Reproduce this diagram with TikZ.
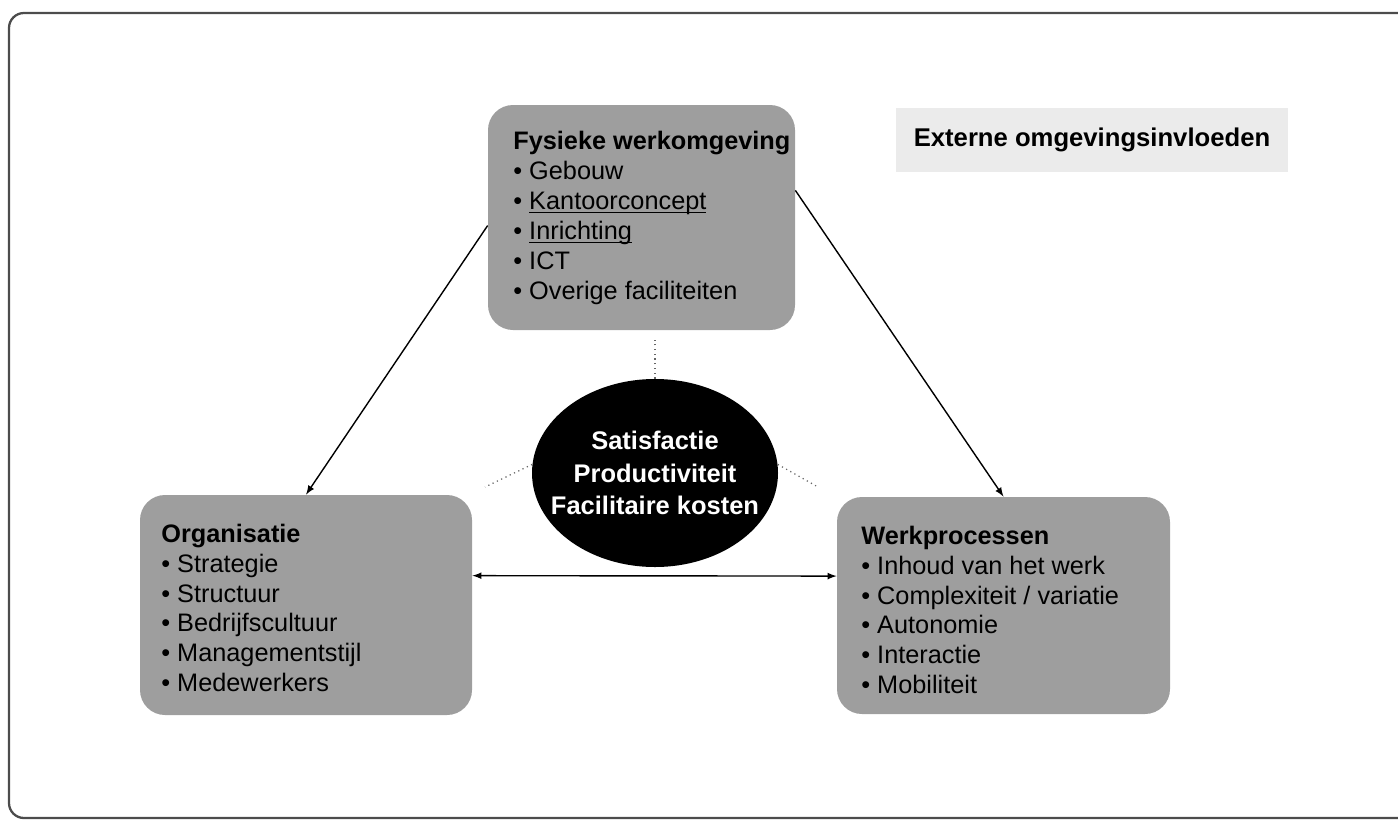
\documentclass[tikz,border=0pt]{standalone}
\usepackage{fontspec}
\setmainfont{Liberation Sans}
\usetikzlibrary{shapes.geometric}
\newcommand\streep[1]{\setbox0\hbox{#1}\rlap{\rule[-2pt]{\wd0}{0.7pt}}\box0}

\begin{document}
\begin{tikzpicture}[x=0.02cm,y=-0.02cm,>=latex,
	box/.style={fill=black!38,rounded corners=0.5cm,inner sep=0pt},
	boxtext/.style={anchor=west,align=left,inner sep=0pt,font=\fontsize{14.4}{17}\selectfont},
	link/.style={line width=0.8pt},
	stub/.style={dotted,black!60,line width=0.7pt}]
		\useasboundingbox (0,0) rectangle (1398,821);
		\draw[black!70, line width=1.3pt, rounded corners=0.3cm] (9,13) rectangle (1420,818);
		% factors
		\node[box, minimum width=307*0.02cm, minimum height=225*0.02cm] (fysiek) at (641.5,217.5) {};
		\node[box, minimum width=332*0.02cm, minimum height=220*0.02cm] (organisatie) at (306,605) {};
		\node[box, minimum width=333*0.02cm, minimum height=217*0.02cm] (werk) at (1003.5,605.5) {};
		\node[boxtext] (fysiektxt) at (513,218) {\textbf{Fysieke werkomgeving}\\ • Gebouw\\ • \streep{Kantoorconcept}\\ • \streep{Inrichting}\\ • ICT\\ • Overige faciliteiten};
		\node[boxtext] (organisatietxt) at (161,608) {\textbf{Organisatie}\\ • Strategie\\ • Structuur\\ • Bedrijfscultuur\\ • Managementstijl\\ • Medewerkers};
		\node[boxtext] (werktxt) at (861,610) {\textbf{Werkprocessen}\\ • Inhoud van het werk\\ • Complexiteit / variatie\\ • Autonomie\\ • Interactie\\ • Mobiliteit};
		% outcome
		\node[ellipse, fill=black, text=white, align=center, inner xsep=-0.4cm, inner ysep=0pt, minimum width=246*0.02cm, minimum height=188*0.02cm, font=\bfseries\fontsize{14.5}{18.5}\selectfont] (uitkomst) at (655,473) {Satisfactie\\ Productiviteit\\ Facilitaire kosten};
		\node[fill=black!8, minimum width=392*0.02cm, minimum height=64*0.02cm, font=\bfseries\fontsize{14.6}{17}\selectfont] (extern) at (1092,140) {Externe omgevingsinvloeden};
		% relations
		\draw[link,->] (fysiek.183) -- (organisatie.north);
		\draw[link,->] (fysiek.10) -- (werk.north);
		\draw[link,<->] (organisatie.10) -- (werk.170);
		\coordinate (stubtop) at (655,340);
		\coordinate (stubleft) at (485,487);
		\coordinate (stubright) at (818,487);
		\draw[stub] (uitkomst.north) -- (stubtop);
		\draw[stub] (uitkomst.176) -- (stubleft);
		\draw[stub] (uitkomst.4) -- (stubright);
\end{tikzpicture}
\end{document}
